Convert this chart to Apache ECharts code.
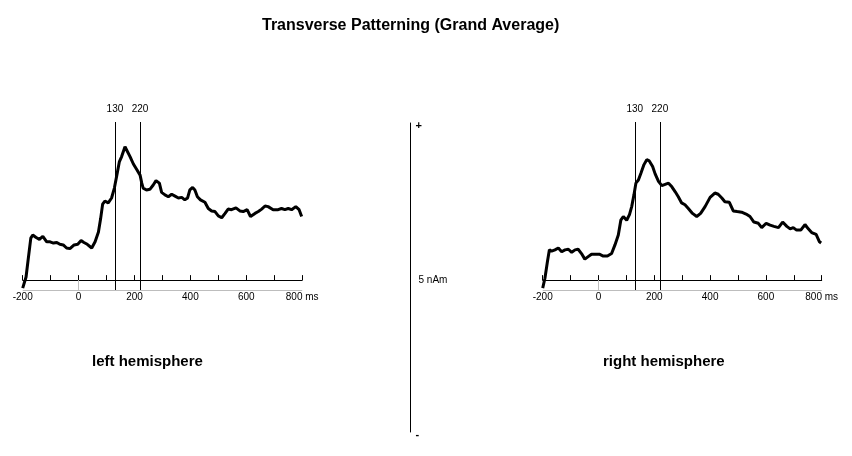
<!DOCTYPE html>
<html>
<head>
<meta charset="utf-8">
<script src="https://cdn.jsdelivr.net/npm/echarts@6/dist/echarts.min.js"></script>
<style>
  html, body { margin: 0; padding: 0; background: #ffffff; }
  #chart { width: 852px; height: 456px; }
</style>
</head>
<body>
<div id="chart"></div>
<script>
// time (ms) and source strength (nAm)
var leftTimes = [-200, -188, -180, -171, -164, -152, -140, -128, -114, -102, -90, -78, -67, -55, -43, -31, -16, -3, 9, 19, 31, 47, 59, 71, 79, 86, 94, 106, 118, 128, 136, 146, 154, 166, 172, 184, 196, 208, 220, 226, 231, 243, 255, 267, 277, 289, 297, 309, 321, 333, 345, 357, 369, 380, 390, 398, 408, 416, 425, 436, 452, 464, 476, 488, 500, 512, 524, 535, 547, 563, 577, 589, 603, 615, 631, 643, 655, 667, 678, 696, 714, 726, 738, 750, 762, 777, 789, 798]
var leftValues = [-0.13, 0.05, 0.35, 0.68, 0.73, 0.69, 0.66, 0.71, 0.62, 0.62, 0.60, 0.61, 0.58, 0.57, 0.52, 0.51, 0.57, 0.58, 0.64, 0.61, 0.58, 0.52, 0.62, 0.78, 1.00, 1.23, 1.28, 1.25, 1.33, 1.49, 1.68, 1.92, 2.00, 2.16, 2.14, 2.00, 1.88, 1.79, 1.70, 1.57, 1.49, 1.46, 1.47, 1.54, 1.61, 1.57, 1.42, 1.38, 1.35, 1.39, 1.36, 1.33, 1.34, 1.30, 1.33, 1.46, 1.50, 1.46, 1.35, 1.30, 1.26, 1.16, 1.12, 1.11, 1.04, 1.01, 1.08, 1.15, 1.14, 1.17, 1.12, 1.11, 1.14, 1.03, 1.08, 1.11, 1.15, 1.20, 1.19, 1.14, 1.14, 1.16, 1.14, 1.16, 1.14, 1.19, 1.14, 1.03]

var rightTimes = [-200, -192, -183, -176, -168, -156, -144, -132, -120, -108, -96, -84, -73, -61, -49, -37, -25, -13, 3, 17, 32, 47, 59, 71, 80, 89, 101, 111, 119, 127, 134, 143, 152, 163, 173, 182, 194, 203, 215, 227, 239, 251, 263, 275, 286, 298, 310, 322, 337, 352, 366, 382, 400, 417, 429, 442, 453, 469, 483, 497, 513, 529, 543, 557, 573, 585, 601, 615, 629, 645, 660, 675, 687, 698, 710, 725, 740, 752, 764, 780, 792, 798]
var rightValues = [-0.13, 0.03, 0.30, 0.49, 0.47, 0.49, 0.52, 0.46, 0.49, 0.50, 0.45, 0.49, 0.50, 0.43, 0.34, 0.38, 0.42, 0.42, 0.42, 0.39, 0.39, 0.43, 0.57, 0.73, 0.97, 1.03, 0.97, 1.06, 1.19, 1.38, 1.57, 1.62, 1.73, 1.87, 1.95, 1.93, 1.84, 1.72, 1.60, 1.53, 1.55, 1.57, 1.51, 1.43, 1.35, 1.25, 1.22, 1.16, 1.08, 1.03, 1.08, 1.19, 1.34, 1.41, 1.39, 1.33, 1.27, 1.26, 1.12, 1.11, 1.10, 1.07, 1.03, 0.94, 0.92, 0.85, 0.92, 0.89, 0.87, 0.85, 0.94, 0.87, 0.83, 0.85, 0.81, 0.81, 0.90, 0.83, 0.77, 0.74, 0.62, 0.60]

var markers = [130, 220]          // ms
var timeTicks = [-200, 800]       // axis range
var scaleBar = [0, 5]             // nAm
var panelNames = ['left hemisphere', 'right hemisphere']

var font = 'Liberation Sans, Arial, sans-serif'
var yMin = -0.16, yMax = 2.56

function pairs(xs, ys) {
  return xs.map(function (x, i) { return [x, ys[i]] })
}

function xAxisFor(idx) {
  return {
    type: 'value', gridIndex: idx,
    min: timeTicks[0], max: timeTicks[1], interval: 200,
    axisLine: { onZero: true, lineStyle: { color: '#000', width: 1 } },
    axisTick: { inside: true, length: 5, lineStyle: { color: '#000' } },
    minorTick: { show: true, splitNumber: 2, length: 5, lineStyle: { color: '#000' } },
    splitLine: { show: false },
    axisLabel: {
      margin: 2, color: '#000', fontSize: 10, fontFamily: font,
      formatter: function (v) { return v === timeTicks[1] ? v + ' ms' : String(v) }
    }
  }
}

function yAxisFor(idx) {
  return { type: 'value', gridIndex: idx, min: yMin, max: yMax, show: false }
}

function curve(idx, xs, ys) {
  var grey = { color: '#bdbdbd', width: 1, type: 'solid' }
  return {
    type: 'line', xAxisIndex: idx, yAxisIndex: idx,
    data: pairs(xs, ys),
    showSymbol: false, symbol: 'none', z: 5,
    lineStyle: { color: '#000', width: 3 },
    markLine: {
      silent: true, symbol: ['none', 'none'], animation: false,
      data: [
        { yAxis: yMin, lineStyle: grey, label: { show: false } },
        [{ coord: [0, yMin], lineStyle: grey, label: { show: false } }, { coord: [0, 0] }]
      ].concat(markers.map(function (m) {
        return {
          xAxis: m,
          lineStyle: { color: '#000', width: 1, type: 'solid' },
          label: { show: true, position: 'end', distance: 8, formatter: String(m), color: '#000', fontSize: 10, fontFamily: font }
        }
      }))
    }
  }
}

var chart = echarts.init(document.getElementById('chart'))
chart.setOption({
  backgroundColor: '#ffffff',
  animation: false,
  title: [
    { text: 'Transverse Patterning (Grand Average)', left: 257, top: 13,
      textStyle: { fontSize: 16, fontWeight: 'bold', color: '#000', fontFamily: font } },
    { text: panelNames[0], left: 87, top: 349,
      textStyle: { fontSize: 15, fontWeight: 'bold', color: '#000', fontFamily: font } },
    { text: panelNames[1], left: 598, top: 349,
      textStyle: { fontSize: 15, fontWeight: 'bold', color: '#000', fontFamily: font } }
  ],
  grid: [
    { left: 22.7, width: 279.5, top: 122, height: 168 },
    { left: 542.7, width: 279, top: 122, height: 168 },
    { left: 410.5, width: 1, top: 123, height: 309 }
  ],
  xAxis: [xAxisFor(0), xAxisFor(1), { type: 'value', gridIndex: 2, show: false }],
  yAxis: [
    yAxisFor(0), yAxisFor(1),
    {
      type: 'value', gridIndex: 2, min: scaleBar[0], max: scaleBar[1], interval: 2.5,
      axisLine: { show: true, lineStyle: { color: '#000', width: 1 } },
      axisTick: { show: false },
      splitLine: { show: false },
      axisLabel: {
        inside: true, margin: 5, color: '#000', fontSize: 10, fontFamily: font,
        formatter: function (v) {
          if (v === scaleBar[1]) return '{p|+}'
          if (v === scaleBar[0]) return '{m|-}'
          return '{t|' + (scaleBar[1] - scaleBar[0]) + ' nAm}'
        },
        rich: {
          p: { fontSize: 11, fontWeight: 'bold', padding: [5, 0, 0, 0], fontFamily: font },
          m: { fontSize: 11, fontWeight: 'bold', padding: [6, 0, 0, 0], fontFamily: font },
          t: { fontSize: 10, padding: [6, 0, 0, 3], fontFamily: font }
        }
      }
    }
  ],
  series: [
    curve(0, leftTimes, leftValues),
    curve(1, rightTimes, rightValues)
  ]
})
</script>
</body>
</html>
